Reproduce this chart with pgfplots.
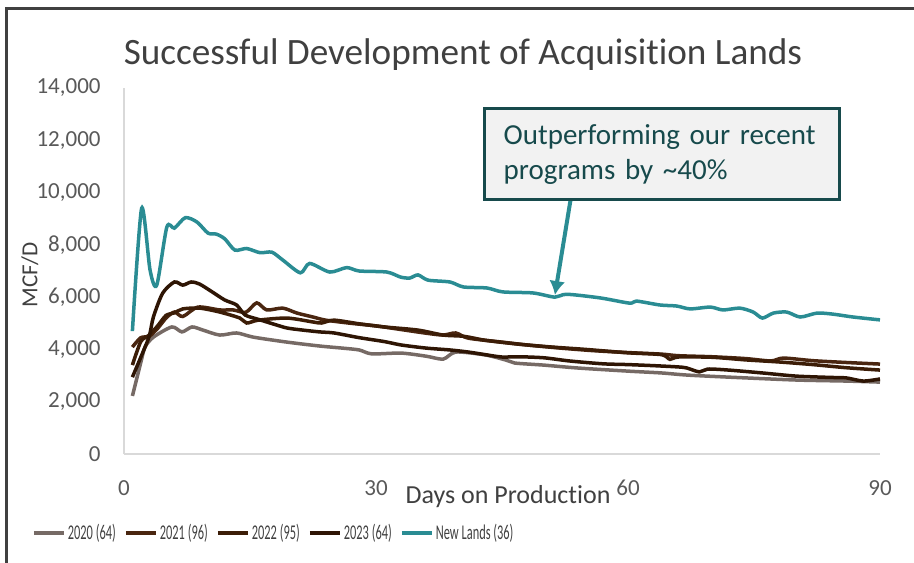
\documentclass[border=0pt]{standalone}
\usepackage{fontspec}
\setmainfont{Carlito}[Ligatures={NoCommon}]
\usepackage{graphicx}
\usepackage{pgfplots}
\usepackage{pgfplotstable}
\pgfplotsset{compat=1.18}
\usetikzlibrary{arrows.meta}

\definecolor{newlands}{HTML}{2A8C93}
\definecolor{c2020}{HTML}{766A65}
\definecolor{c2021}{HTML}{4A2610}
\definecolor{c2022}{HTML}{3C1D07}
\definecolor{c2023}{HTML}{2E1504}
\definecolor{axgray}{HTML}{D9D9D9}
\definecolor{txtgray}{HTML}{595959}
\definecolor{titlegray}{HTML}{404040}
\definecolor{boxedge}{HTML}{174A4C}
\definecolor{boxfill}{HTML}{F2F2F2}

% days on production vs MCF/D
\pgfplotstableread{
d v
1 2220
2 3500
2.5 4090
3.5 4470
5.7 4860
6.9 4670
8.1 4860
9.4 4740
11.4 4550
13.4 4630
15.4 4470
19.4 4280
23.3 4130
26 4050
28 3980
29.5 3830
33 3860
36 3740
38 3630
39.5 3900
43 3790
45.5 3590
46.5 3480
50 3400
54 3290
60 3170
64 3100
67 3020
72 2940
80 2830
86 2790
90 2750
}\tabA

\pgfplotstableread{
d v
1 4090
2 4450
3 4500
4 4800
5 5200
6 5430
7 5260
8.8 5620
11.4 5510
13 5510
14.5 5420
15.8 5780
17 5510
18.9 5580
20.6 5390
22.5 5240
24 5120
27 5000
30 4900
33 4760
36 4620
38 4550
39.5 4630
41 4430
45 4280
48 4170
52 4050
56 3950
60 3880
64 3820
66 3760
70 3720
74 3650
77 3560
78.5 3670
82 3570
86 3500
90 3440
}\tabB

\pgfplotstableread{
d v
1 2940
2 3700
3 4500
3.5 5240
4.6 6150
6 6580
7 6460
8 6580
9 6500
10.5 6200
12 5890
13.4 5700
14.4 5320
16 5150
18 4950
19.4 4820
21 4750
23.3 4670
25 4630
28 4450
31 4300
33 4170
36 4050
38.8 3980
41 3900
43 3800
45 3710
47 3720
50 3680
53 3560
57 3450
60 3420
63 3380
66 3330
67 3290
68.5 3140
69.5 3250
72 3210
76 3100
80 2980
84 2930
86 2910
88 2790
90 2870
}\tabC

\pgfplotstableread{
d v
1 3400
2 4300
3 4550
4 4900
5 5300
6 5400
7 5550
9 5580
11.4 5430
13.8 5200
14.6 5010
16 5120
19.4 5200
22.5 5050
23.5 5010
25 5120
28 4980
31 4860
35 4740
38 4550
40.5 4500
43 4350
47 4200
51 4090
55 4000
60 3870
64 3800
65 3620
66 3710
70 3700
74 3600
78 3520
82 3420
86 3300
90 3210
}\tabD

\pgfplotstableread{
d v
1 4700
2.1 9400
3.1 7040
3.9 6460
5.1 8680
6 8640
7.3 9040
8.7 8870
10 8450
11 8410
12 8230
13.2 7800
14.6 7860
16.2 7700
17.6 7720
18.9 7420
21 6930
22.1 7290
24.5 6960
26.5 7130
28 7000
31.3 6960
32.9 6770
34 6730
35 6850
36.2 6650
38.8 6580
40.4 6390
43.2 6350
45.1 6200
48.7 6160
51.3 6000
52.7 6110
56.7 5970
60.2 5770
61 5850
63.8 5700
65.8 5660
67.4 5550
69.8 5620
71.3 5510
73.3 5580
74.9 5430
76 5200
77.3 5390
78.9 5430
80.5 5240
82.5 5390
84.4 5350
86.8 5240
90 5130
}\tabE

\begin{document}
\begin{tikzpicture}
\useasboundingbox (-62pt,-54pt) rectangle (395pt,227pt);
\draw[titlegray, line width=1.5pt] (-58.5pt,-70pt) -- (-58.5pt,222.5pt) -- (420pt,222.5pt);
\begin{axis}[
    at={(0,0)}, anchor=south west,
    scale only axis,
    width=378pt, height=183pt,
    xmin=0, xmax=90, ymin=0, ymax=14000,
    xtick={0,30,60,90},
    ytick={0,2000,...,14000},
    axis x line*=bottom, axis y line*=left,
    axis line style={draw=axgray, line width=1pt},
    major tick length=0pt,
    /pgf/number format/assume math mode=true,
    /pgf/number format/1000 sep={,},
    scaled y ticks=false,
    tick label style={font=\fontsize{11.5}{13}\selectfont, text=txtgray, inner sep=0pt},
    yticklabel style={anchor=east, xshift=-11.5pt},
    xticklabel style={anchor=north, yshift=-13pt},
    xlabel={Days on Production},
    ylabel={MCF/D},
    every axis x label/.style={at={(axis description cs:0.508,0)}, anchor=center, yshift=-21.5pt, font=\fontsize{13}{15}\selectfont, text=titlegray},
    every axis y label/.style={at={(axis description cs:0,0.49)}, anchor=center, rotate=90, yshift=47pt, font=\fontsize{11.5}{13}\selectfont, text=titlegray},
    legend columns=5,
    legend style={at={(axis description cs:0.198,-0.216)}, anchor=center, draw=none, fill=none,
        font=\fontsize{10.5}{12}\selectfont, text=titlegray,
        /tikz/every even column/.append style={column sep=3pt},
        inner sep=0pt, nodes={inner sep=1pt}},
    legend image code/.code={\draw[#1, line width=2pt] (0pt,0pt) -- (15pt,0pt);},
    every axis plot/.append style={line width=1.75pt, smooth, tension=0.45},
]
\addplot[c2020] table[x=d, y=v] {\tabA};
\addlegendentry{\scalebox{0.59}[1]{2020 (64)}}
\addplot[c2021] table[x=d, y=v] {\tabB};
\addlegendentry{\scalebox{0.59}[1]{2021 (96)}}
\addplot[c2022] table[x=d, y=v] {\tabD};
\addlegendentry{\scalebox{0.59}[1]{2022 (95)}}
\addplot[c2023] table[x=d, y=v] {\tabC};
\addlegendentry{\scalebox{0.59}[1]{2023 (64)}}
\addplot[newlands] table[x=d, y=v] {\tabE};
\addlegendentry{\scalebox{0.59}[1]{New Lands (36)}}

\draw[newlands, line width=2pt, -{Latex[length=7pt,width=8pt]}] (axis cs:53.2,9800) -- (axis cs:51.3,6080);
\node[draw=boxedge, line width=1.5pt, fill=boxfill, anchor=north west,
      minimum width=177.5pt, minimum height=45.5pt, inner xsep=9pt,
      align=left, text=boxedge, font=\fontsize{14.5}{17.5}\selectfont, text width=158pt]
  at (axis cs:42.7,13270) {Outperforming our recent\\programs by \textasciitilde40\%};
\end{axis}
\node[anchor=base, text=titlegray, font=\fontsize{18.6}{21}\selectfont] at (169.5pt,194.5pt) {Successful Development of Acquisition Lands};
\end{tikzpicture}
\end{document}
